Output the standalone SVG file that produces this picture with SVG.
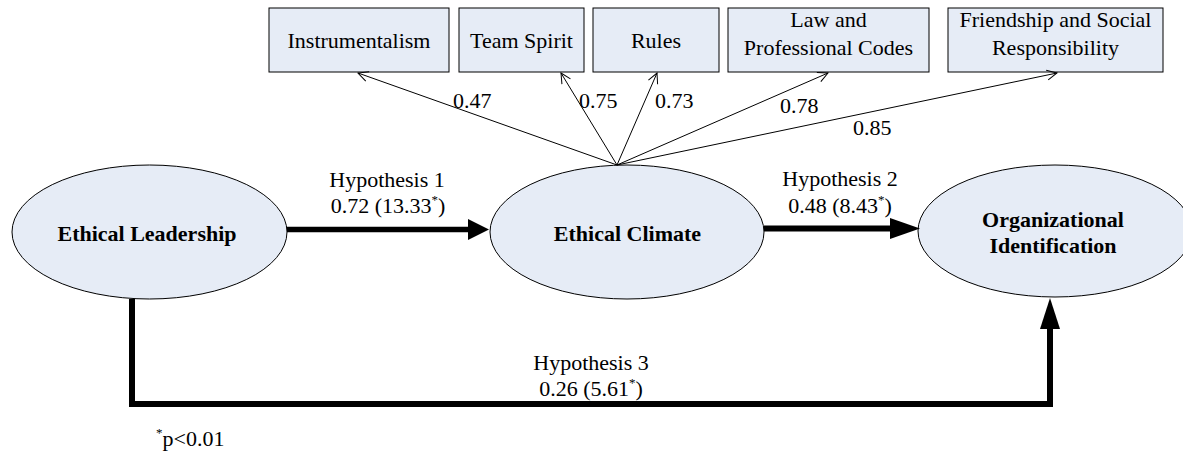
<svg xmlns="http://www.w3.org/2000/svg" width="1183" height="454" viewBox="0 0 1183 454">
<style>
  text { font-family: "Liberation Serif", "Times New Roman", serif; font-size: 22px; fill: #000; }
  .b { font-weight: bold; }
  .m { text-anchor: middle; }
  .sup { font-size: 13px; }
  .node { fill: #E6ECF6; stroke: #000; stroke-width: 1; }
  .thin { fill: none; stroke: #000; stroke-width: 1; marker-end: url(#open); }
  .thick { fill: none; stroke: #000; stroke-linejoin: miter; stroke-linecap: butt; }
  .head { fill: #000; stroke: none; }
</style>
<defs>
  <marker id="open" markerUnits="userSpaceOnUse" markerWidth="12" markerHeight="12" refX="11" refY="6" orient="auto" viewBox="0 0 12 12">
    <path d="M1,1 L11,6 L1,11" fill="none" stroke="#000" stroke-width="1"/>
  </marker>
</defs>

<g id="instrumentalism">
  <rect class="node" x="269" y="8" width="180" height="64"/>
  <text class="m" x="359" y="48">Instrumentalism</text>
</g>
<g id="team-spirit">
  <rect class="node" x="459" y="8" width="125" height="64"/>
  <text class="m" x="521.5" y="48">Team Spirit</text>
</g>
<g id="rules">
  <rect class="node" x="593" y="8" width="126" height="64"/>
  <text class="m" x="656" y="48">Rules</text>
</g>
<g id="law">
  <rect class="node" x="728" y="8" width="201" height="64"/>
  <text class="m" x="828.5" y="27">Law and</text>
  <text class="m" x="828.5" y="55">Professional Codes</text>
</g>
<g id="friendship">
  <rect class="node" x="948" y="8" width="215" height="64"/>
  <text class="m" x="1055.5" y="27">Friendship and Social</text>
  <text class="m" x="1055.5" y="55">Responsibility</text>
</g>

<g id="ethical-leadership">
  <ellipse class="node" cx="149.5" cy="232" rx="137.5" ry="67"/>
  <text class="b m" x="147" y="241">Ethical Leadership</text>
</g>
<g id="ethical-climate">
  <ellipse class="node" cx="627" cy="232" rx="137" ry="67"/>
  <text class="b m" x="627.5" y="241">Ethical Climate</text>
</g>
<g id="organizational-identification">
  <ellipse class="node" cx="1055" cy="231" rx="137" ry="66"/>
  <text class="b m" x="1053" y="227">Organizational</text>
  <text class="b m" x="1053" y="253">Identification</text>
</g>

<g id="connectors">
  <line class="thin" x1="617" y1="165" x2="358" y2="73"/>
  <line class="thin" x1="617" y1="165" x2="561" y2="73"/>
  <line class="thin" x1="617" y1="165" x2="657" y2="73"/>
  <line class="thin" x1="617" y1="165" x2="828" y2="73"/>
  <line class="thin" x1="617" y1="165" x2="1057" y2="73"/>

  <line class="thick" x1="287" y1="229.5" x2="470" y2="229.5" stroke-width="5.5"/>
  <polygon class="head" points="468,219 489,229.5 468,240"/>

  <line class="thick" x1="764" y1="228.5" x2="892" y2="228.5" stroke-width="6"/>
  <polygon class="head" points="890,218 920,228.5 890,239"/>

  <path class="thick" d="M132,299 V404 H1050 V327" stroke-width="6"/>
  <polygon class="head" points="1040,329 1050,298 1060,329"/>
</g>

<g id="labels">
  <text x="453" y="108">0.47</text>
  <text x="579" y="108">0.75</text>
  <text x="655" y="108">0.73</text>
  <text x="780" y="113">0.78</text>
  <text x="853" y="135">0.85</text>

  <text class="m" x="387" y="187">Hypothesis 1</text>
  <text class="m" x="388" y="213">0.72 (13.33<tspan class="sup" dy="-9">*</tspan><tspan dy="9">)</tspan></text>

  <text class="m" x="840" y="186">Hypothesis 2</text>
  <text class="m" x="840" y="213">0.48 (8.43<tspan class="sup" dy="-9">*</tspan><tspan dy="9">)</tspan></text>

  <text class="m" x="591" y="370">Hypothesis 3</text>
  <text class="m" x="591" y="396">0.26 (5.61<tspan class="sup" dy="-9">*</tspan><tspan dy="9">)</tspan></text>

  <text x="156" y="446"><tspan class="sup" dy="-9">*</tspan><tspan dy="9">p&lt;0.01</tspan></text>
</g>
</svg>
